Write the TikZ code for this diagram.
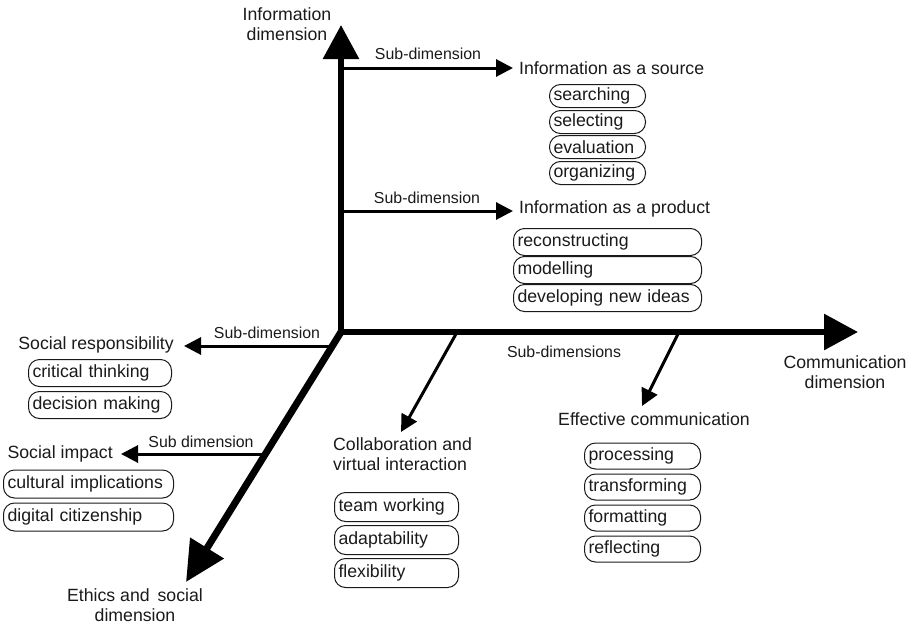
\documentclass[tikz,border=0pt]{standalone}
\usepackage{fontspec}
\setmainfont{Liberation Sans}
\usetikzlibrary{arrows.meta,calc}
\definecolor{ink}{HTML}{1A1A1A}
\tikzset{
  txt/.style={inner sep=0pt, text=ink, font=\fontsize{17.7}{20.5}\selectfont},
  sublbl/.style={inner sep=0pt, text=ink, font=\fontsize{15.9}{18}\selectfont},
  box/.style={draw=ink, line width=1pt, rounded corners=11pt, inner xsep=4pt, inner ysep=0pt,
    anchor=west, align=left, text=ink, font=\fontsize{17.7}{20.5}\selectfont},
  axis/.style={line width=6pt, draw=black},
  sub/.style={line width=3pt, draw=black, -{Triangle[length=17pt,width=17pt]}},
}
\begin{document}
\begin{tikzpicture}[x=1pt,y=-1pt]
\path[use as bounding box] (0,0) rectangle (907,624);
% axes
\coordinate (O) at (341,332);
\coordinate (Itip) at (341,25);
\coordinate (Ctip) at (858,332);
\coordinate (Etip) at (186,582);
\draw[axis, line join=miter, {Triangle[length=34pt,width=35pt]}-{Triangle[length=34pt,width=35pt]}] (Itip) -- (O) -- (Ctip);
\draw[line width=7pt, -{Triangle[length=40pt,width=38pt]}] (O) -- (Etip);

% axis titles
\node[txt, align=center] (idim) at (287,24) {Information\\dimension};
\node[txt, align=center] (cdim) at (845,372) {Communication\\dimension};
\node[txt, align=center] (edim) at (135,605) {Ethics and\, social\\dimension};

% Information as a source
\coordinate (is) at (341,68);
\node[txt, anchor=west] (src) at (519,68) {Information as a source};
\draw[sub, shorten >=6pt] (is) -- (is -| src.west);
\node[sublbl] (l1) at (428,54) {Sub-dimension};
\node[box, text width=88pt, minimum height=23pt] (b1) at (549,96) {searching};
\node[box, text width=88pt, minimum height=23pt] (b2) at (549,122) {selecting};
\node[box, text width=88pt, minimum height=23pt] (b3) at (549,147) {evaluation};
\node[box, text width=88pt, minimum height=23pt] (b4) at (549,173) {organizing};

% Information as a product
\coordinate (ip) at (341,211);
\node[txt, anchor=west] (prod) at (519,209) {Information as a product};
\draw[sub, shorten >=6pt] (ip) -- (ip -| prod.west);
\node[sublbl] (l2) at (427,198) {Sub-dimension};
\node[box, text width=180pt, minimum height=27pt] (p1) at (513,242) {reconstructing};
\node[box, text width=180pt, minimum height=27pt] (p2) at (513,270) {modelling};
\node[box, text width=180pt, minimum height=27pt] (p3) at (513,298) {developing new ideas};

% Social responsibility
\coordinate (srs) at (332,346);
\node[txt, anchor=east] (sr) at (174,345) {Social responsibility};
\draw[sub, shorten >=10pt] (srs) -- (srs -| sr.east);
\node[sublbl] (l3) at (267,333) {Sub-dimension};
\node[box, text width=135pt, minimum height=27pt] (s1) at (28,373) {critical thinking};
\node[box, text width=135pt, minimum height=27pt] (s2) at (28,405) {decision making};

% Social impact
\coordinate (sis) at (263,454);
\node[txt, anchor=east] (si) at (113,454) {Social impact};
\draw[sub, shorten >=8pt] (sis) -- (sis -| si.east);
\node[sublbl] (l4) at (201,442) {Sub dimension};
\node[box, text width=162pt, minimum height=28pt] (t1) at (3,484) {cultural implications};
\node[box, text width=162pt, minimum height=28pt] (t2) at (3,517) {digital citizenship};

% Communication sub-dimensions
\node[sublbl] (l5) at (564,352) {Sub-dimensions};
\coordinate (cs) at (456,334);
\coordinate (ct) at (401,432);
\draw[sub] (cs) -- (ct);
\node[txt, anchor=north west, align=left] (col) at (333,437) {Collaboration and\\virtual interaction};
\node[box, text width=116pt, minimum height=29pt] (c1) at (334,507) {team working};
\node[box, text width=116pt, minimum height=29pt] (c2) at (334,540) {adaptability};
\node[box, text width=116pt, minimum height=29pt] (c3) at (334,573) {flexibility};

\coordinate (es) at (678,334);
\coordinate (et) at (642,406);
\draw[sub] (es) -- (et);
\node[txt, anchor=west] (eff) at (558,419) {Effective communication};
\node[box, text width=108pt, minimum height=26pt] (e1) at (584,456) {processing};
\node[box, text width=108pt, minimum height=26pt] (e2) at (584,487) {transforming};
\node[box, text width=108pt, minimum height=26pt] (e3) at (584,518) {formatting};
\node[box, text width=108pt, minimum height=26pt] (e4) at (584,549) {reflecting};
\end{tikzpicture}
\end{document}
